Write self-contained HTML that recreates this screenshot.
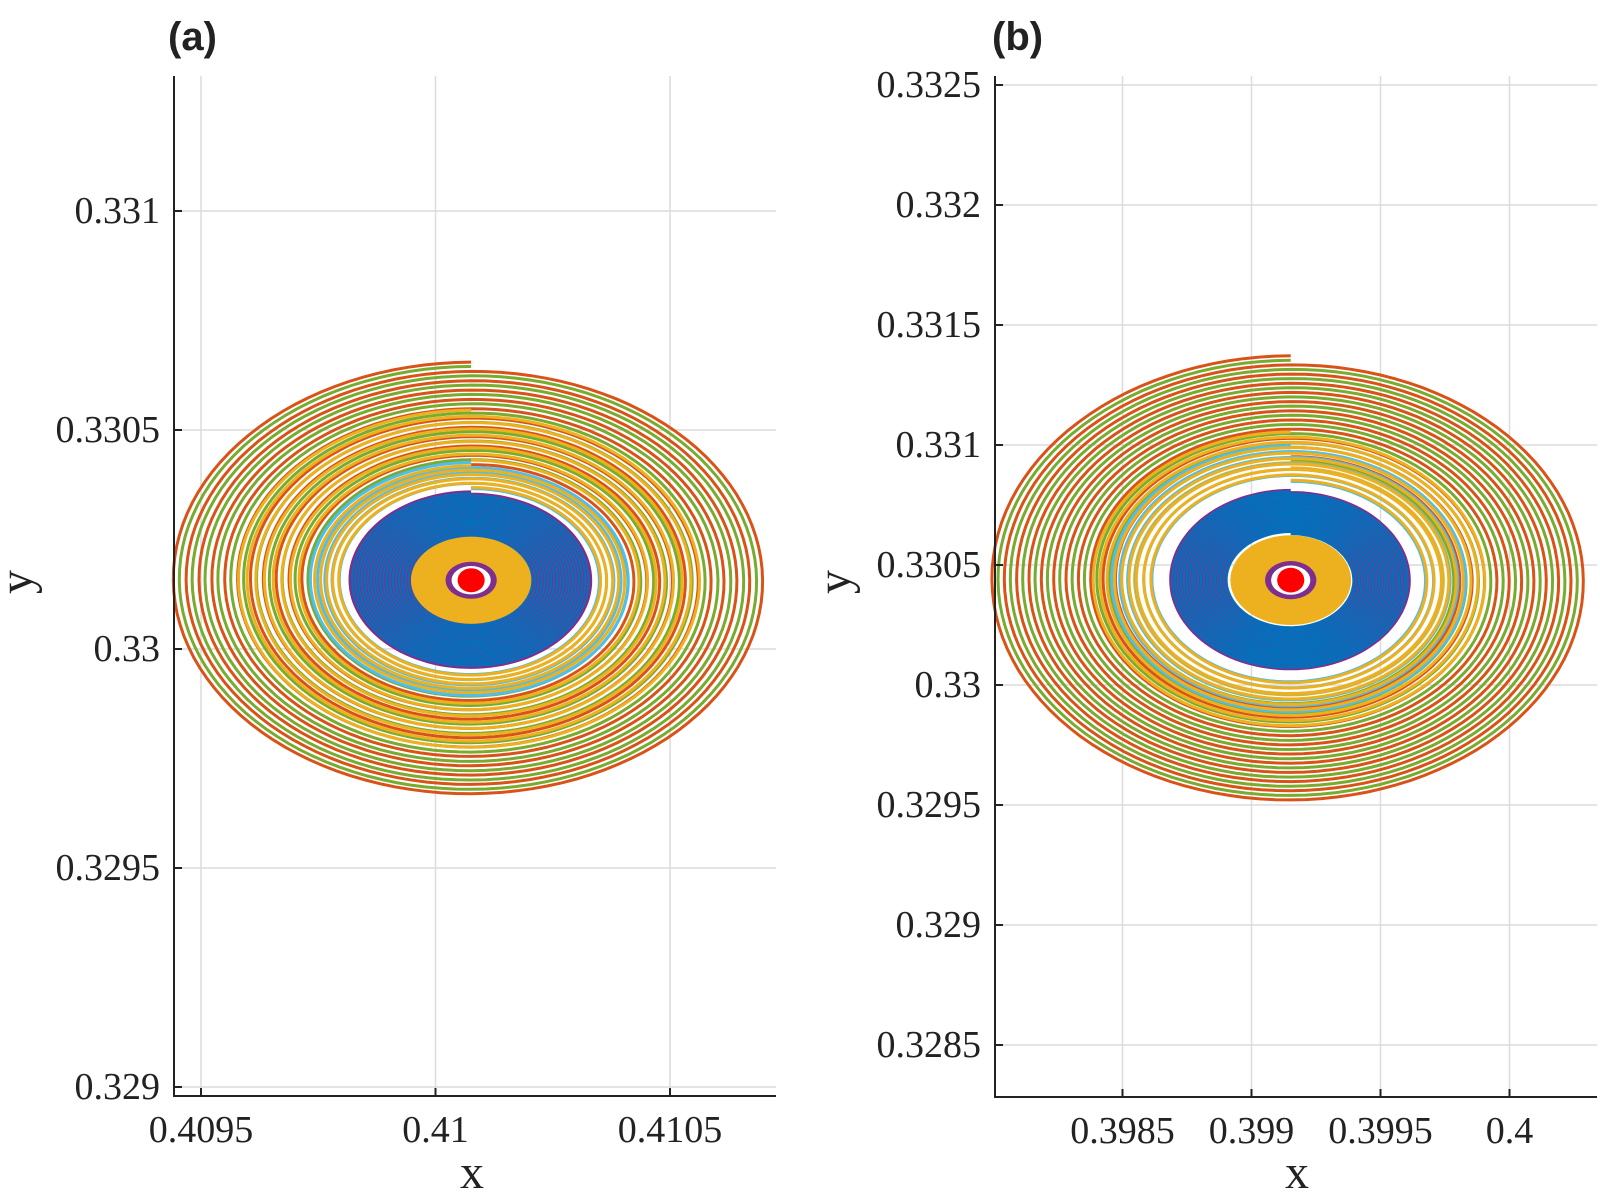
<!DOCTYPE html>
<html><head><meta charset="utf-8"><style>
html,body{margin:0;padding:0;background:#fff;}
svg{display:block;}
text{font-family:"Liberation Serif",serif;fill:#222;}
</style></head><body>
<svg id="fig" width="1600" height="1200" viewBox="0 0 1600 1200"></svg>
<script>
// ---- Panel (a) data ----
const aXTicks = [0.4095, 0.41, 0.4105];
const aXTickLabels = ["0.4095", "0.41", "0.4105"];
const aYTicks = [0.329, 0.3295, 0.33, 0.3305, 0.331];
const aYTickLabels = ["0.329", "0.3295", "0.33", "0.3305", "0.331"];
const aCenter = [0.410076, 0.330157];
const aRadius = [0.000642, 0.000498];
// ---- Panel (b) data ----
const bXTicks = [0.3985, 0.399, 0.3995, 0.4];
const bXTickLabels = ["0.3985", "0.399", "0.3995", "0.4"];
const bYTicks = [0.3285, 0.329, 0.3295, 0.33, 0.3305, 0.331, 0.3315, 0.332, 0.3325];
const bYTickLabels = ["0.3285", "0.329", "0.3295", "0.33", "0.3305", "0.331", "0.3315", "0.332", "0.3325"];
const bCenter = [0.399152, 0.330437];
const bRadius = [0.00117, 0.000935];
// ---- spiral layers (fractions of outer radius) ----
const aLayerColors = ["#D95319", "#77AC30", "#EDB120", "#4DBEEE", "#EDB120", "#7E2F8E", "#0072BD"];
const aLayerOuter = [1.0, 0.98, 0.78, 0.54, 0.525, 0.405, 0.398];
const aLayerInner = [0.53, 0.51, 0.55, 0.42, 0.425, 0.195, 0.19];
const aLayerTurns = [11, 11, 8, 5, 5, 20, 20];
const bLayerColors = ["#D95319", "#77AC30", "#EDB120", "#4DBEEE", "#EDB120", "#7E2F8E", "#0072BD"];
const bLayerOuter = [1.0, 0.98, 0.66, 0.6, 0.59, 0.40, 0.395];
const bLayerInner = [0.55, 0.53, 0.50, 0.44, 0.445, 0.21, 0.205];
const bLayerTurns = [11, 11, 7, 6, 6, 20, 20];
// core discs
const coreFrac = [0.2, 0.085, 0.065];
const coreColors = ["#EDB120", "#7E2F8E", "#ffffff"];
const dotFrac = [0.045, 0.055];

const NS = "http://www.w3.org/2000/svg";
const svg = document.getElementById("fig");
function el(tag, attrs, parent) {
  const e = document.createElementNS(NS, tag);
  for (const k in attrs) e.setAttribute(k, attrs[k]);
  (parent || svg).appendChild(e);
  return e;
}

function drawPanel(cfg) {
  const g = el("g", {});
  
  
  const sx = v => cfg.px0 + (v - cfg.x0) / (cfg.x1 - cfg.x0) * (cfg.px1 - cfg.px0);
  const sy = v => cfg.py0 + (v - cfg.y0) / (cfg.y1 - cfg.y0) * (cfg.py1 - cfg.py0);
  cfg.xt.forEach((t, i) => {
    const l = el("line", {x1: sx(t), x2: sx(t), y1: cfg.top, y2: cfg.bottom, stroke: "#dcdcdc", "stroke-width": 1.5}, g);
    
    
  });
  cfg.yt.forEach((t, i) => {
    const l = el("line", {x1: cfg.left, x2: cfg.right, y1: sy(t), y2: sy(t), stroke: "#dcdcdc", "stroke-width": 1.5}, g);
    
    
  });
  const [cx, cy] = cfg.center, [rx, ry] = cfg.radius;
  for (let k = 0; k < cfg.colors.length; k++) {
    const f0 = cfg.outer[k], f1 = cfg.inner[k], n = cfg.turns[k];
    const steps = Math.round(n * 120);
    let d = "";
    for (let s = 0; s <= steps; s++) {
      const u = s / steps;
      const f = f0 + (f1 - f0) * u;
      const th = Math.PI / 2 + u * n * 2 * Math.PI;
      const x = sx(cx + rx * f * Math.cos(th));
      const y = sy(cy + ry * f * Math.sin(th));
      d += (s ? "L" : "M") + x.toFixed(1) + " " + y.toFixed(1);
    }
    const p = el("path", {d: d, fill: "none", stroke: cfg.colors[k], "stroke-width": k === 6 ? 2 : 3}, g);
    
    
  }
  coreFrac.forEach((f, i) => {
    const e = el("ellipse", {cx: sx(cx), cy: sy(cy), rx: Math.abs(sx(cx + rx * f) - sx(cx)), ry: Math.abs(sy(cy + ry * f) - sy(cy)), fill: coreColors[i]}, g);
    
    
  });
  const dot = el("ellipse", {cx: sx(cx), cy: sy(cy), rx: Math.abs(sx(cx + rx * dotFrac[0]) - sx(cx)), ry: Math.abs(sy(cy + ry * dotFrac[1]) - sy(cy)), fill: "#ff0000"}, g);
  
  
  const ax = el("path", {d: `M${cfg.left} ${cfg.top}V${cfg.bottom}H${cfg.right}`, fill: "none", stroke: "#222", "stroke-width": 2}, g);
  
  
  cfg.xt.forEach((t, i) => {
    el("line", {x1: sx(t), x2: sx(t), y1: cfg.bottom, y2: cfg.bottom - 8, stroke: "#222", "stroke-width": 2}, g);
    const tx = el("text", {x: sx(t), y: cfg.bottom + 46, "text-anchor": "middle", "font-size": 38}, g);
    tx.textContent = cfg.xl[i];
    
    
  });
  cfg.yt.forEach((t, i) => {
    el("line", {x1: cfg.left, x2: cfg.left + 8, y1: sy(t), y2: sy(t), stroke: "#222", "stroke-width": 2}, g);
    const tx = el("text", {x: cfg.left - 14, y: sy(t) + 12, "text-anchor": "end", "font-size": 38}, g);
    tx.textContent = cfg.yl[i];
    
    
  });
  const xl = el("text", {x: cfg.xlabX, y: 1188, "text-anchor": "middle", "font-size": 48}, g);
  xl.textContent = "x";
  
  
  const yl = el("text", {x: 0, y: 0, "text-anchor": "middle", "font-size": 48, transform: `translate(${cfg.ylabX},582) rotate(-90)`}, g);
  yl.textContent = "y";
  
  
  const tt = el("text", {x: cfg.titleX, y: 50, "font-size": 40, "font-weight": "bold", style: 'font-family:"Liberation Sans",sans-serif'}, g);
  tt.textContent = cfg.title;
  
  
}

drawPanel({name: "panel-a", left: 174, right: 776, top: 76, bottom: 1096,
  x0: 0.4095, x1: 0.4105, px0: 201, px1: 670,
  y0: 0.329, y1: 0.331, py0: 1087, py1: 211,
  xt: aXTicks, xl: aXTickLabels, yt: aYTicks, yl: aYTickLabels,
  center: aCenter, radius: aRadius,
  colors: aLayerColors, outer: aLayerOuter, inner: aLayerInner, turns: aLayerTurns,
  xlabX: 472, ylabX: 32, titleX: 168, title: "(a)"});
drawPanel({name: "panel-b", left: 995, right: 1597, top: 76, bottom: 1097,
  x0: 0.3985, x1: 0.4, px0: 1122.5, px1: 1509.5,
  y0: 0.3285, y1: 0.3325, py0: 1045, py1: 85,
  xt: bXTicks, xl: bXTickLabels, yt: bYTicks, yl: bYTickLabels,
  center: bCenter, radius: bRadius,
  colors: bLayerColors, outer: bLayerOuter, inner: bLayerInner, turns: bLayerTurns,
  xlabX: 1297, ylabX: 850, titleX: 992, title: "(b)"});
</script>
</body></html>
